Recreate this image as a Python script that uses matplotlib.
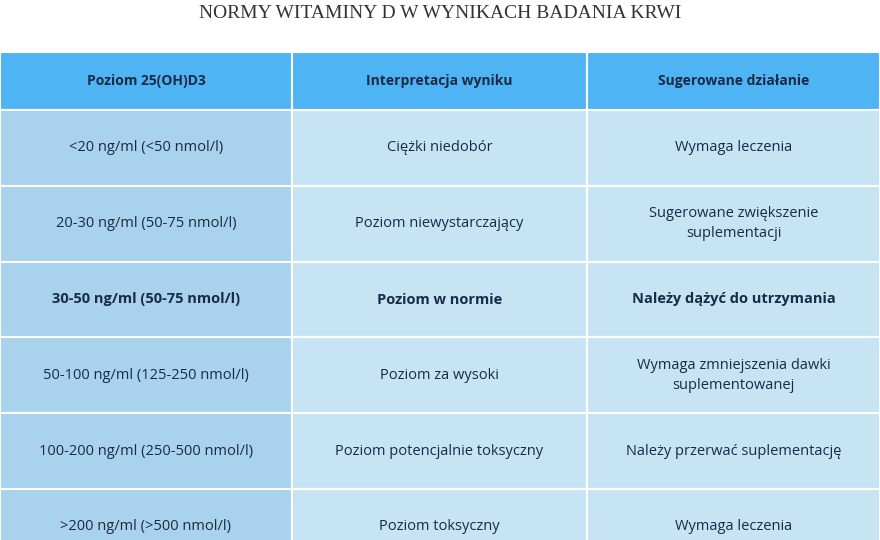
import matplotlib
matplotlib.use("Agg")
import matplotlib.pyplot as plt
from matplotlib.patches import Rectangle

title = "NORMY WITAMINY D W WYNIKACH BADANIA KRWI"
headers = ["Poziom 25(OH)D3", "Interpretacja wyniku", "Sugerowane działanie"]
col1 = ["<20 ng/ml (<50 nmol/l)", "20-30 ng/ml (50-75 nmol/l)", "30-50 ng/ml (50-75 nmol/l)",
        "50-100 ng/ml (125-250 nmol/l)", "100-200 ng/ml (250-500 nmol/l)", ">200 ng/ml (>500 nmol/l)"]
col2 = ["Ciężki niedobór", "Poziom niewystarczający", "Poziom w normie",
        "Poziom za wysoki", "Poziom potencjalnie toksyczny", "Poziom toksyczny"]
col3 = ["Wymaga leczenia", "Sugerowane zwiększenie\nsuplementacji", "Należy dążyć do utrzymania",
        "Wymaga zmniejszenia dawki\nsuplementowanej", "Należy przerwać suplementację", "Wymaga leczenia"]
bold_rows = [2]

fig = plt.figure(figsize=(8.8, 5.4), dpi=100)
ax = fig.add_axes([0, 0, 1, 1])
ax.set_xlim(0, 880); ax.set_ylim(540, 0); ax.axis("off")
plt.rcParams['font.family'] = ['Open Sans', 'DejaVu Sans']

ax.text(440, 14, title, ha="center", va="center", fontsize=14, family=["Liberation Serif"], color="#333333")

xs = [0, 292, 587, 880]
hdr_top, hdr_h, row_h = 52, 58, 75.8
txt = "#1b2a45"
for j, h in enumerate(headers):
    ax.add_patch(Rectangle((xs[j], hdr_top), xs[j+1]-xs[j], hdr_h, fc="#4fb4f4", ec="white", lw=1.5))
    ax.text((xs[j]+xs[j+1])/2, hdr_top+hdr_h/2, h, ha="center", va="center", fontsize=10, weight="bold", color=txt)

cols = [col1, col2, col3]
fills = ["#a9d2ec", "#c6e4f4", "#c6e4f4"]
for i in range(len(col1)):
    y0 = hdr_top + hdr_h + i*row_h
    for j in range(3):
        ax.add_patch(Rectangle((xs[j], y0), xs[j+1]-xs[j], row_h, fc=fills[j], ec="white", lw=1.5))
        ax.text((xs[j]+xs[j+1])/2, y0+row_h/2, cols[j][i], ha="center", va="center", fontsize=10.5,
                weight="bold" if i in bold_rows else "normal", color=txt, linespacing=1.5)

fig.savefig("out.png", dpi=100)
